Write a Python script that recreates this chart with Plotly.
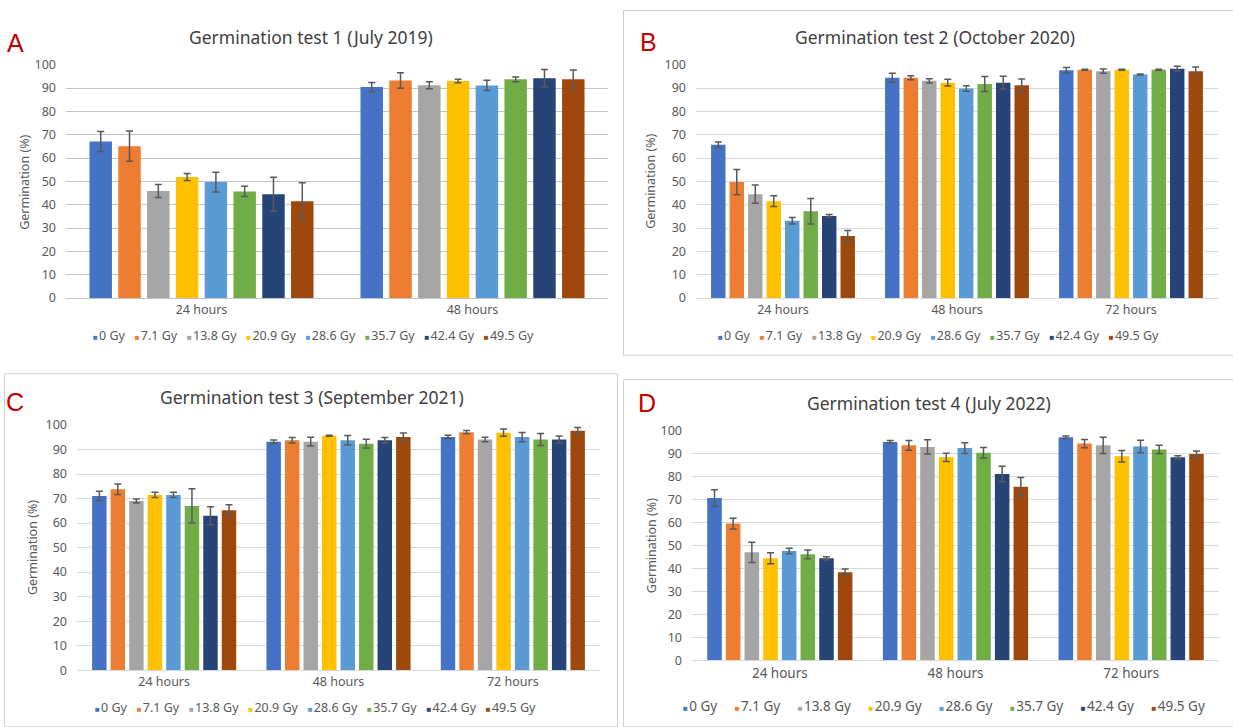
import plotly.graph_objects as go

# ---------------- data ----------------
doses = ["0 Gy", "7.1 Gy", "13.8 Gy", "20.9 Gy", "28.6 Gy", "35.7 Gy", "42.4 Gy", "49.5 Gy"]
times_t1 = ["24 hours", "48 hours"]
times_t234 = ["24 hours", "48 hours", "72 hours"]
titles = ["Germination test 1 (July 2019)", "Germination test 2 (October 2020)",
          "Germination test 3 (September 2021)", "Germination test 4 (July 2022)"]
letters = ["A", "B", "C", "D"]

t1_24h_mean = [67.1, 65.1, 45.9, 51.9, 49.7, 45.7, 44.5, 41.5]
t1_24h_err = [4.3, 6.5, 2.8, 1.5, 4.2, 2.2, 7.3, 7.9]
t1_48h_mean = [90.4, 93.2, 91.2, 93.0, 91.1, 93.7, 94.2, 93.7]
t1_48h_err = [2.0, 3.3, 1.5, 0.7, 2.2, 1.0, 3.7, 4.0]

t2_24h_mean = [65.7, 49.7, 44.5, 41.5, 33.1, 37.2, 35.2, 26.6]
t2_24h_err = [1.2, 5.4, 3.9, 2.3, 1.4, 5.5, 0.6, 2.4]
t2_48h_mean = [94.4, 94.4, 93.1, 92.3, 89.8, 91.7, 92.3, 91.2]
t2_48h_err = [1.9, 0.9, 0.9, 1.4, 1.2, 3.2, 2.7, 2.7]
t2_72h_mean = [97.6, 97.8, 97.2, 97.8, 95.8, 97.8, 98.3, 97.2]
t2_72h_err = [1.2, 0.2, 0.9, 0.2, 0.2, 0.2, 1.0, 1.8]

t3_24h_mean = [71.1, 73.8, 69.0, 71.5, 71.5, 67.0, 63.0, 65.2]
t3_24h_err = [1.9, 2.1, 0.8, 1.1, 1.1, 7.0, 3.7, 2.3]
t3_48h_mean = [93.2, 93.8, 93.2, 95.6, 93.8, 92.4, 93.8, 95.1]
t3_48h_err = [0.7, 1.1, 1.8, 0.2, 1.9, 1.8, 1.1, 1.7]
t3_72h_mean = [95.1, 97.1, 94.1, 96.9, 95.1, 94.1, 94.1, 97.7]
t3_72h_err = [0.7, 0.7, 0.9, 1.5, 1.9, 2.4, 1.4, 1.3]

t4_24h_mean = [70.8, 59.6, 47.1, 44.5, 47.7, 46.2, 44.5, 38.4]
t4_24h_err = [3.6, 2.3, 4.4, 2.4, 1.2, 1.9, 0.7, 1.4]
t4_48h_mean = [95.2, 93.7, 93.0, 88.5, 92.5, 90.5, 81.2, 75.7]
t4_48h_err = [0.6, 2.1, 3.1, 1.8, 2.3, 2.3, 3.4, 4.0]
t4_72h_mean = [97.2, 94.5, 93.7, 89.0, 93.2, 91.9, 88.5, 89.9]
t4_72h_err = [0.6, 1.8, 3.5, 2.5, 2.7, 1.9, 0.7, 1.3]

# ---------------- style ----------------
colors = ["#4472C4", "#ED7D31", "#A5A5A5", "#FFC000", "#5B9BD5", "#70AD47", "#264478", "#9E480E"]
W, H = 1233, 727
FONT = "Noto Sans"
TXT = "#595959"


def fx(x):
    return x / W


def fy(y):
    return 1 - y / H


panels = [
    dict(times=times_t1, means=[t1_24h_mean, t1_48h_mean], errs=[t1_24h_err, t1_48h_err],
         plot=(66, 608, 57, 296), title=(311, 29), letter=(15, 35), ylab=(25, 177),
         leg=(313, 334), legsize=12.5, catsize=12.5, legsep=3, grid="#C4C4C4", gw=1.2),
    dict(times=times_t234, means=[t2_24h_mean, t2_48h_mean, t2_72h_mean],
         errs=[t2_24h_err, t2_48h_err, t2_72h_err],
         plot=(696, 1218, 57, 296), title=(935, 29), letter=(648, 34), ylab=(651, 177),
         leg=(938, 334), legsize=12.5, catsize=12.5, legsep=3, grid="#D9D9D9", gw=1),
    dict(times=times_t234, means=[t3_24h_mean, t3_48h_mean, t3_72h_mean],
         errs=[t3_24h_err, t3_48h_err, t3_72h_err],
         plot=(77, 600, 426, 677), title=(312, 397), letter=(15, 402), ylab=(32, 552),
         leg=(315, 715), legsize=12.5, catsize=12.5, legsep=3, grid="#D9D9D9", gw=1),
    dict(times=times_t234, means=[t4_24h_mean, t4_48h_mean, t4_72h_mean],
         errs=[t4_24h_err, t4_48h_err, t4_72h_err],
         plot=(692, 1219, 432, 667), title=(929, 403), letter=(647, 403), ylab=(651, 550),
         leg=(944, 714), legsize=13.5, catsize=13.5, legsep=5, grid="#D9D9D9", gw=1),
]

fig = go.Figure()
annotations = []
shapes = []
layout_axes = {}

for p_i, p in enumerate(panels):
    n = p_i + 1
    xname = "x" if n == 1 else f"x{n}"
    yname = "y" if n == 1 else f"y{n}"
    for d_i, dose in enumerate(doses):
        fig.add_trace(go.Bar(
            x=p["times"],
            y=[m[d_i] for m in p["means"]],
            name=dose,
            marker=dict(color=colors[d_i], line=dict(width=0)),
            error_y=dict(type="data", array=[e[d_i] for e in p["errs"]], visible=True,
                         color="#595959", thickness=1.5, width=3.5),
            xaxis=xname, yaxis=yname, showlegend=False,
        ))
    x0, x1, y0, y1 = p["plot"]
    xkey = "xaxis" if n == 1 else f"xaxis{n}"
    ykey = "yaxis" if n == 1 else f"yaxis{n}"
    layout_axes[xkey] = dict(
        domain=[fx(x0), fx(x1)], anchor=yname, showgrid=False, zeroline=False,
        showline=True, linecolor=p["grid"], linewidth=p["gw"], ticks="",
        tickfont=dict(family=FONT, size=p["catsize"], color=TXT), fixedrange=True,
    )
    layout_axes[ykey] = dict(
        domain=[fy(y1), fy(y0)], anchor=xname, range=[0, 100], dtick=10, tick0=0,
        showgrid=True, gridcolor=p["grid"], gridwidth=p["gw"], zeroline=False,
        showline=False, ticks="", ticklabelstandoff=9,
        tickfont=dict(family=FONT, size=12.5, color=TXT), fixedrange=True,
    )
    # y-axis title
    annotations.append(dict(text="Germination (%)", x=fx(p["ylab"][0]), y=fy(p["ylab"][1]),
                            xref="paper", yref="paper", xanchor="center", yanchor="middle",
                            textangle=-90, showarrow=False,
                            font=dict(family=FONT, size=12.5, color=TXT)))
    # title
    annotations.append(dict(text=titles[p_i], x=fx(p["title"][0]), y=fy(p["title"][1]),
                            xref="paper", yref="paper", xanchor="center", yanchor="middle",
                            showarrow=False, font=dict(family=FONT, size=17.5, color="#404040")))
    # panel letter
    annotations.append(dict(text=letters[p_i], x=fx(p["letter"][0]), y=fy(p["letter"][1]),
                            xref="paper", yref="paper", xanchor="center", yanchor="middle",
                            showarrow=False, font=dict(family="Liberation Sans", size=25, color="#C00000")))
    # legend (Excel-style row of small squares + labels)
    sep = "\u00a0" * p["legsep"]
    items = [f"<span style='color:{colors[i]};font-size:8px'>■</span>\u200a{dose}"
             for i, dose in enumerate(doses)]
    annotations.append(dict(text=sep.join(items), x=fx(p["leg"][0]), y=fy(p["leg"][1]),
                            xref="paper", yref="paper", xanchor="center", yanchor="middle",
                            showarrow=False, font=dict(family=FONT, size=p["legsize"], color=TXT)))

# panel frames
frame = "#D0D0D0"
shapes.append(dict(type="rect", xref="paper", yref="paper", x0=fx(623.5), x1=fx(1240),
                   y0=fy(354.5), y1=fy(1.5), line=dict(color=frame, width=1)))
shapes.append(dict(type="rect", xref="paper", yref="paper", x0=fx(4.5), x1=fx(617.5),
                   y0=fy(735), y1=fy(373.5), line=dict(color=frame, width=1)))
shapes.append(dict(type="rect", xref="paper", yref="paper", x0=fx(623.5), x1=fx(1240),
                   y0=fy(735), y1=fy(379.5), line=dict(color=frame, width=1)))

fig.update_layout(
    width=W, height=H, margin=dict(l=0, r=0, t=0, b=0),
    paper_bgcolor="white", plot_bgcolor="white",
    barmode="group", bargap=0.15, bargroupgap=0.22,
    showlegend=False, annotations=annotations, shapes=shapes,
    font=dict(family=FONT, color=TXT),
    **layout_axes,
)

fig.write_html("out.html", config=dict(displayModeBar=False),
               post_script="document.body.style.margin='0';document.body.style.overflow='hidden';")
